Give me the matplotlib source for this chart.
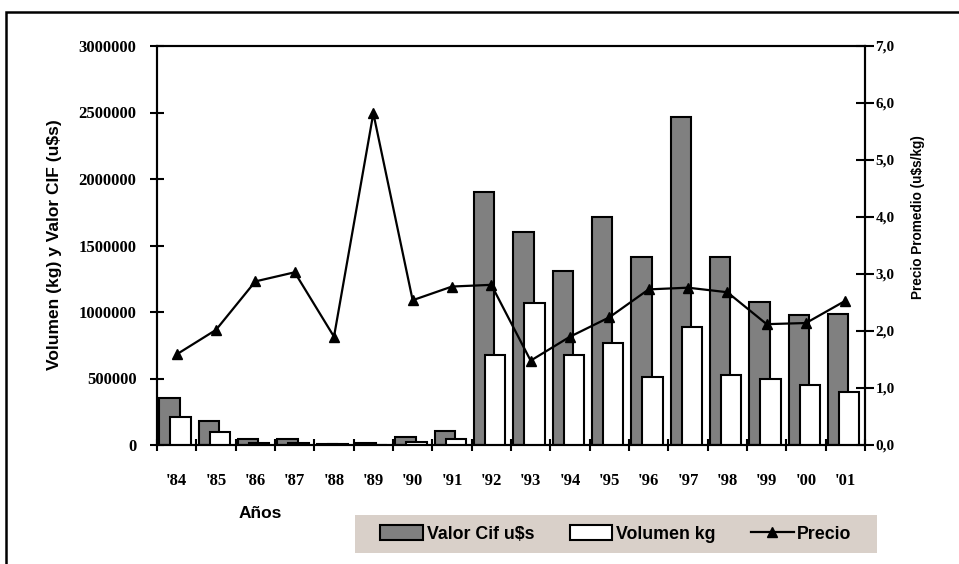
import matplotlib
matplotlib.use('Agg')
import matplotlib.pyplot as plt
from matplotlib.patches import Rectangle, Patch
from matplotlib.lines import Line2D
from matplotlib.ticker import FuncFormatter, FixedLocator
import numpy as np

years = ["'84", "'85", "'86", "'87", "'88", "'89", "'90", "'91", "'92", "'93",
         "'94", "'95", "'96", "'97", "'98", "'99", "'00", "'01"]
valor_cif = [350000, 180000, 45000, 45000, 8000, 15000, 62000, 108000, 1900000,
             1600000, 1312000, 1717000, 1414000, 2466000, 1414000, 1072000, 980000, 982000]
volumen = [213000, 95000, 15700, 14800, 4200, 2600, 20000, 45000, 677000,
           1070000, 677000, 767000, 514000, 890000, 527000, 498000, 453000, 396000]
precio = [1.59, 2.02, 2.87, 3.03, 1.90, 5.82, 2.54, 2.78, 2.81, 1.48,
          1.90, 2.24, 2.73, 2.76, 2.68, 2.12, 2.14, 2.53]

W, H = 959, 564
fig = plt.figure(figsize=(W / 100, H / 100), dpi=100)
fig.patch.set_facecolor('white')

left, right, top, bottom = 157, 865, 46, 445
ax = fig.add_axes([left / W, 1 - bottom / H, (right - left) / W, (bottom - top) / H])
ax2 = ax.twinx()

x = np.arange(len(years))
ax.bar(x - 0.18, valor_cif, width=0.52, color='#808080', edgecolor='black', linewidth=1.5, zorder=2)
ax.bar(x + 0.10, volumen, width=0.52, color='white', edgecolor='black', linewidth=1.5, zorder=3)
ax2.plot(x, precio, color='black', lw=1.6, marker='^', markersize=7.5, markerfacecolor='black',
         markeredgecolor='black')

ax.set_xlim(-0.5, len(years) - 0.5)
ax.set_ylim(0, 3000000)
ax2.set_ylim(0, 7)

serif = 'Liberation Serif'
sans = 'Liberation Sans'

ax.set_yticks(np.arange(0, 3000001, 500000))
ax.yaxis.set_major_formatter(FuncFormatter(lambda v, p: f'{int(v)}'))
ax2.set_yticks(np.arange(0, 7.01, 1.0))
ax2.yaxis.set_major_formatter(FuncFormatter(lambda v, p: f'{v:.1f}'.replace('.', ',')))

ax.set_xticks(x)
ax.set_xticklabels(years)
ax.xaxis.set_minor_locator(FixedLocator(np.arange(-0.5, len(years), 1.0)))
ax.tick_params(axis='x', which='major', length=0, pad=20, labelsize=12)
ax.tick_params(axis='x', which='minor', direction='inout', length=9, width=1.5)
ax.tick_params(axis='y', which='major', direction='inout', length=9.5, width=1.5, pad=10, labelsize=12)
ax2.tick_params(axis='y', which='major', direction='inout', length=13, width=1.5, pad=1, labelsize=11)

for lab in ax.get_xticklabels() + ax.get_yticklabels() + ax2.get_yticklabels():
    lab.set_fontfamily(serif)
    lab.set_fontweight('bold')

for a in (ax, ax2):
    for s in a.spines.values():
        s.set_linewidth(1.5)
        s.set_color('black')

fig.text(55 / W, 1 - 245 / H, 'Volumen (kg) y Valor CIF (u$s)', rotation=90,
         ha='center', va='center', fontfamily=sans, fontweight='bold', fontsize=12.5)
fig.text(918 / W, 1 - 217 / H, 'Precio Promedio (u$s/kg)', rotation=90,
         ha='center', va='center', fontfamily=sans, fontweight='bold', fontsize=9.8)
fig.text(260 / W, 1 - 513 / H, 'Años', ha='center', va='center',
         fontfamily=sans, fontweight='bold', fontsize=12.5)

# legend background
fig.add_artist(Rectangle((355 / W, 1 - 553 / H), (877 - 355) / W, (553 - 515) / H,
                         transform=fig.transFigure, facecolor='#d9d0c9', edgecolor='none', zorder=0))
handles = [Patch(facecolor='#808080', edgecolor='black', linewidth=1.5),
           Patch(facecolor='white', edgecolor='black', linewidth=1.5),
           Line2D([], [], color='black', lw=1.6, marker='^', markersize=7)]
leg = fig.legend(handles, ['Valor Cif u$s', 'Volumen kg', 'Precio'], ncol=3,
                 loc='center', bbox_to_anchor=(616 / W, 1 - 534 / H), frameon=False,
                 prop={'family': sans, 'weight': 'bold', 'size': 12.8},
                 handlelength=2.4, handleheight=0.9, handletextpad=0.2, columnspacing=2.0)

# outer border
fig.add_artist(Rectangle((6 / W, -0.5), 2.0, 0.5 + (H - 12) / H, transform=fig.transFigure,
                         fill=False, edgecolor='black', linewidth=1.8, clip_on=False))

fig.savefig('out.png', dpi=100)
